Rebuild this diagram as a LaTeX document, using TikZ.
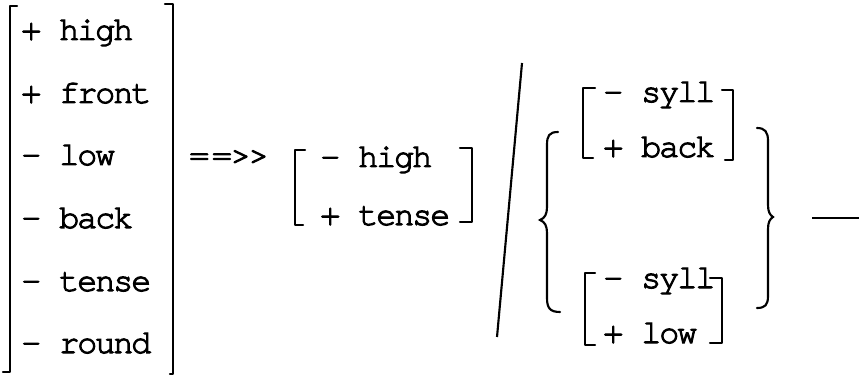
\documentclass[tikz,border=0pt]{standalone}
\usepackage{fontspec}
\setmonofont{TeX Gyre Cursor}[FakeBold=3,LetterSpace=-6]
\begin{document}
\begin{tikzpicture}[x=0.75pt,y=-0.75pt,
  feat/.style={anchor=base west,inner sep=0pt,font=\ttfamily\fontsize{25}{30}\selectfont},
  brk/.style={line width=1.6pt,line cap=round,line join=round},
  brace/.style={line width=1.6pt,line cap=round}]
\useasboundingbox (0,0) rectangle (859,377);
% left feature matrix
\node[feat] (l1) at (21,40) {+ high};
\node[feat] (l2) at (21,103) {+ front};
\node[feat] (l3) at (21,165) {- low};
\node[feat] (l4) at (21,228) {- back};
\node[feat] (l5) at (21,291) {- tense};
\node[feat] (l6) at (21,353) {- round};
\draw[brk] (17,6) -- (10,6) -- (10,372) -- (3,372);
\draw[brk] (165,4) -- (173,4) -- (173,374) -- (170,374);
% arrow
\node[feat] (arr) at (189,165) {=\kern2pt=\kern-1pt>>};
% middle matrix
\node[feat] (m1) at (320,167) {- high};
\node[feat] (m2) at (320,225) {+ tense};
\draw[brk] (305,150) -- (295,150) -- (295,225) -- (303,225);
\draw[brk] (460,148) -- (472,148) -- (472,222) -- (460,222);
% slash
\coordinate (s1) at (522,63);
\coordinate (s2) at (497,337);
\draw[line width=1.6pt] (s1) -- (s2);
% left brace
\draw[brace] (558,132) .. controls (549,132) and (547,136) .. (547,145)
  -- (547,207) .. controls (547,214) and (545,218) .. (540,220)
  .. controls (545,222) and (547,226) .. (547,233)
  -- (547,298) .. controls (547,308) and (550,312) .. (560,312);
% right brace
\draw[brace] (757,128) .. controls (765,128) and (768,132) .. (768,141)
  -- (768,205) .. controls (768,212) and (770,215) .. (773,217)
  .. controls (770,219) and (768,222) .. (768,229)
  -- (768,296) .. controls (768,305) and (765,308) .. (757,308);
% upper group
\node[feat] (u1) at (603,102) {- syll};
\node[feat] (u2) at (603,157) {+ back};
\draw[brk] (595,88) -- (583,88) -- (583,158) -- (593,158);
\draw[brk] (722,90) -- (733,90) -- (733,160) -- (725,160);
% lower group
\node[feat] (w1) at (603,288) {- syll};
\node[feat] (w2) at (603,343) {+ low};
\draw[brk] (595,273) -- (585,273) -- (585,345) -- (595,345);
\draw[brk] (710,278) -- (722,278) -- (722,343) -- (710,343);
% environment dash
\coordinate (d1) at (812,218);
\coordinate (d2) at (859,218);
\draw[line width=1.8pt] (d1) -- (d2);
\end{tikzpicture}
\end{document}
